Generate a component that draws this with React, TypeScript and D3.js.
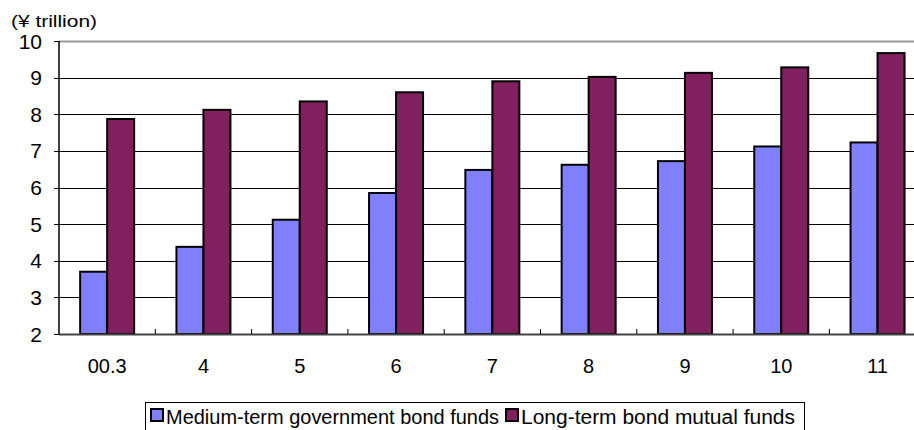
import React from "react";
import * as d3 from "d3";

const categories = ["00.3", "4", "5", "6", "7", "8", "9", "10", "11"];
const mediumTerm = [3.7, 4.38, 5.12, 5.85, 6.48, 6.62, 6.72, 7.12, 7.23];
const longTerm = [7.87, 8.12, 8.35, 8.6, 8.9, 9.02, 9.13, 9.28, 9.67];
const yTicks = [2, 3, 4, 5, 6, 7, 8, 9, 10];
const seriesNames = ["Medium-term government bond funds", "Long-term bond mutual funds"];
const colors = ["#8080ff", "#80205f"];

export default function App() {
  const W = 914, H = 430;
  const left = 59, top = 41, bottom = 334;
  const catW = 96.3;
  const right = left + catW * categories.length;
  const x = d3.scaleBand<string>().domain(categories).range([left, right]).paddingInner(0).paddingOuter(0);
  const y = d3.scaleLinear().domain([2, 10]).range([bottom, top]);
  const barW = 27;
  const font = "'Liberation Sans', Arial, sans-serif";
  const series = [mediumTerm, longTerm];
  return (
    <svg width={W} height={H} style={{ position: "absolute", left: 0, top: 0, display: "block" }}>
      <rect x={0} y={0} width={W} height={H} fill="#fff" />
      {yTicks.filter(t => t !== 2 && t !== 10).map(t => (
        <line key={t} x1={left} x2={W} y1={Math.round(y(t)) + 0.5} y2={Math.round(y(t)) + 0.5} stroke="#000" strokeWidth={1} />
      ))}
      <line x1={left} x2={W} y1={top + 0.5} y2={top + 0.5} stroke="#999" strokeWidth={2} />
      {categories.map((c, i) =>
        series.map((s, k) => {
          const cx = (x(c) as number) + x.bandwidth() / 2;
          const bx = cx - barW + k * barW;
          return (
            <rect key={c + k} x={bx} y={y(s[i])} width={barW} height={bottom - y(s[i])}
              fill={colors[k]} stroke="#000" strokeWidth={2} />
          );
        })
      )}
      <line x1={left} x2={left} y1={top} y2={bottom} stroke="#000" strokeWidth={1.5} />
      <line x1={left} x2={W} y1={bottom + 0.5} y2={bottom + 0.5} stroke="#444" strokeWidth={2} />
      {yTicks.map(t => (
        <line key={"yt" + t} x1={left - 5} x2={left} y1={Math.round(y(t)) + 0.5} y2={Math.round(y(t)) + 0.5} stroke="#000" />
      ))}
      {categories.slice(1).map(c => (
        <line key={"xt" + c} x1={(x(c) as number)} x2={(x(c) as number)} y1={bottom} y2={bottom - 5} stroke="#000" />
      ))}
      {yTicks.map(t => (
        <text key={"yl" + t} x={42} y={y(t)} dy="0.36em" textAnchor="end" fontSize={21} fontFamily={font} fill="#000">{t}</text>
      ))}
      <text x={11} y={27} fontSize={16} fontFamily={font} fill="#000" textLength={86} lengthAdjust="spacingAndGlyphs">(¥ trillion)</text>
      {categories.map(c => (
        <text key={"xl" + c} x={(x(c) as number) + x.bandwidth() / 2} y={373} textAnchor="middle" fontSize={20} fontFamily={font} fill="#000">{c}</text>
      ))}
      <rect x={145.5} y={402.5} width={659} height={40} fill="#fff" stroke="#000" strokeWidth={1} />
      <rect x={151} y={409} width={12} height={12} fill={colors[0]} stroke="#000" strokeWidth={2} />
      <text x={166} y={424} fontSize={20} fontFamily={font} fill="#000" textLength={333} lengthAdjust="spacingAndGlyphs">{seriesNames[0]}</text>
      <rect x={506} y={409} width={12} height={12} fill={colors[1]} stroke="#000" strokeWidth={2} />
      <text x={521} y={424} fontSize={20} fontFamily={font} fill="#000" textLength={274} lengthAdjust="spacingAndGlyphs">{seriesNames[1]}</text>
    </svg>
  );
}
